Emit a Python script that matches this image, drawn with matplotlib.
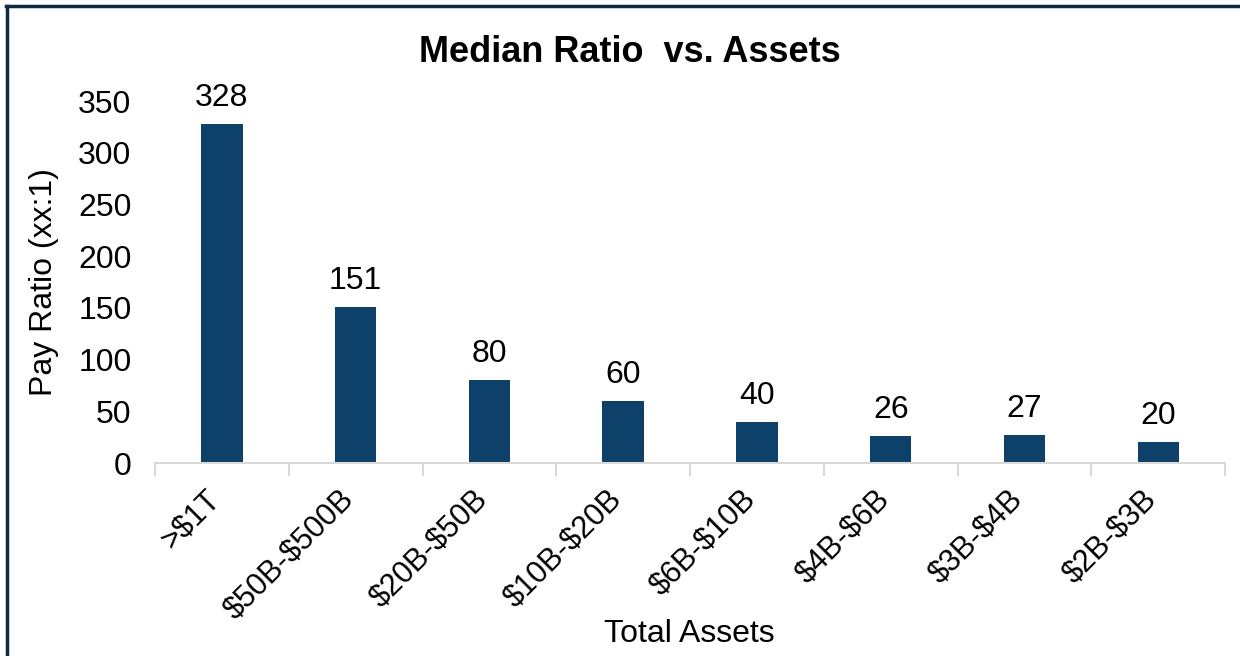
import matplotlib.pyplot as plt
from matplotlib.lines import Line2D
import matplotlib.transforms as mtransforms
import numpy as np

plt.rcParams['font.family'] = ['Liberation Sans', 'DejaVu Sans']
plt.rcParams['text.parse_math'] = False

categories = ['>$1T', '$50B-$500B', '$20B-$50B', '$10B-$20B',
              '$6B-$10B', '$4B-$6B', '$3B-$4B', '$2B-$3B']
ratios = [328, 151, 80, 60, 40, 26, 27, 20]
yticks = [0, 50, 100, 150, 200, 250, 300, 350]

fig = plt.figure(figsize=(12.4, 6.56), dpi=100)
ax = fig.add_axes([0.125, 0.294, 0.863, 0.552])

x = np.arange(len(categories))
bars = ax.bar(x, ratios, width=0.31, color='#0e4169')

for b, v in zip(bars, ratios):
    ax.annotate(str(v), (b.get_x() + b.get_width() / 2, v),
                xytext=(0, 8), textcoords='offset points',
                ha='center', va='bottom', fontsize=23)

ax.set_xlim(-0.5, len(categories) - 0.5)
ax.set_ylim(0, 350)
ax.set_yticks(yticks)
ax.set_xticks(x)
ax.set_xticklabels(categories, rotation=45, ha='right', va='center',
                   rotation_mode='anchor', fontsize=22)
ax.set_xticks(np.arange(len(categories) + 1) - 0.5, minor=True)
ax.tick_params(axis='x', which='major', length=0, pad=23)
ax.tick_params(axis='x', which='minor', length=9, color='#d9d9d9', width=1.5)
ax.tick_params(axis='y', length=0, labelsize=23, pad=17)

# nudge the rotated labels a little left
shift = mtransforms.ScaledTranslation(-6 / 100, 0, fig.dpi_scale_trans)
for lbl in ax.get_xticklabels():
    lbl.set_transform(lbl.get_transform() + shift)

for s in ['top', 'right', 'left']:
    ax.spines[s].set_visible(False)
ax.spines['bottom'].set_color('#d9d9d9')
ax.spines['bottom'].set_linewidth(1.5)

ax.set_ylabel('Pay Ratio (xx:1)', fontsize=23, labelpad=14)
fig.text(0.556, 0.033, 'Total Assets', ha='center', va='center', fontsize=23)
fig.text(0.508, 0.92, 'Median Ratio  vs. Assets', ha='center', va='center',
         fontsize=26, fontweight='bold')

# border on left and top
fig.add_artist(Line2D([0.006, 0.006], [0, 0.991], color='#0d2a42', lw=2.5))
fig.add_artist(Line2D([0.005, 1.0], [0.991, 0.991], color='#0d2a42', lw=2.5))

fig.savefig('out.png', dpi=100)
